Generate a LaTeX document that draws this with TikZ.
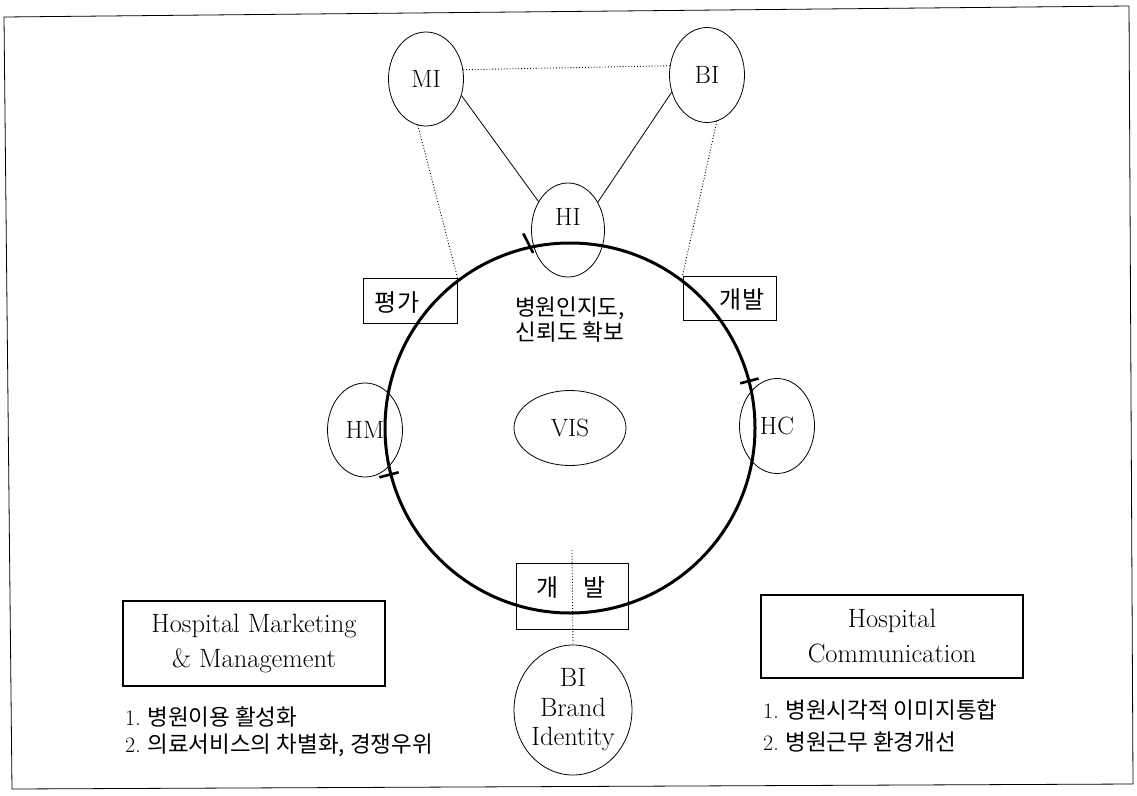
\documentclass[tikz,border=0pt]{standalone}
\usepackage{fontspec}
\newfontfamily\kr{Noto Sans CJK KR}
\usetikzlibrary{shapes.geometric,calc}
\begin{document}
\begin{tikzpicture}[x=1pt,y=-1pt,
  ell/.style={draw,ellipse,inner sep=0pt,line width=0.8pt,font=\fontsize{25}{29}\selectfont,align=center},
  lbox/.style={draw,rectangle,inner sep=0pt,line width=0.9pt},
  hbox/.style={draw,rectangle,inner sep=0pt,line width=2.6pt,align=center,font=\fontsize{26.5}{35}\selectfont},
  thinline/.style={line width=0.8pt},
  dots/.style={line width=0.9pt,dotted},
  ring/.style={line width=3pt},
  tickmark/.style={line width=2.6pt},
  ktext/.style={font=\kr\fontsize{23}{26}\selectfont,align=center,inner sep=0pt},
  listtext/.style={font=\fontsize{22}{26}\selectfont,anchor=west,inner sep=0pt},
  lbl/.style={font=\fontsize{25}{29}\selectfont,inner sep=0pt}
]
\useasboundingbox (0,0) rectangle (1137,795);
% frame
\draw[line width=0.8pt] (4,17) -- (1129,6) -- (1133,784) -- (12,789) -- cycle;

% ellipses
\node[ell,minimum width=75pt,minimum height=94pt] (MI) at (426,79) {MI};
\node[ell,minimum width=75pt,minimum height=95pt] (BI) at (707,75) {BI};
\node[ell,minimum width=73pt,minimum height=94pt] (HI) at (568,230) {};
\node[lbl] (HIt) at (568,217) {HI};
\node[ell,minimum width=75pt,minimum height=94pt] (HM) at (365,430) {HM};
\node[ell,minimum width=75pt,minimum height=95pt] (HC) at (777,426) {HC};
\node[ell,minimum width=112pt,minimum height=75pt] (VIS) at (570,428) {VIS};
\node[ell,minimum width=112pt,minimum height=130pt,font=\fontsize{26.5}{29.5}\selectfont] (BB) at (573,710) {BI\\Brand\\Identity};

% small boxes
\node[lbox,minimum width=94pt,minimum height=45pt] (PG) at (410,300.5) {};
\node[ktext,font=\kr\fontsize{24}{26}\selectfont] (PGt) at (397,302) {평가};
\node[lbox,minimum width=93pt,minimum height=44pt] (GB) at (729.5,298) {};
\node[ktext,font=\kr\fontsize{24}{26}\selectfont] (GBt) at (742,300) {개발};
\node[lbox,minimum width=112pt,minimum height=66pt] (GB2) at (572,596) {};
\node[ktext,font=\kr\fontsize{24}{26}\selectfont] (GB2t) at (571,588) {개\hspace{24pt}발};

% text in the circle
\node[ktext,font=\kr\fontsize{22.5}{25}\selectfont] (T) at (570,320) {병원인지도,\\신뢰도 확보};

% big boxes
\node[hbox,minimum width=262pt,minimum height=85pt] (HMM) at (254,643.5) {Hospital Marketing\\\& Management};
\node[hbox,minimum width=262pt,minimum height=83pt] (HCB) at (892,636.5) {Hospital\\Communication};

% lists
\node[listtext] (L1) at (125,717) {1.\ {\kr\fontsize{22.5}{26}\selectfont 병원이용 활성화}};
\node[listtext] (L2) at (125,745) {2.\ {\kr\fontsize{22.5}{26}\selectfont 의료서비스의 차별화, 경쟁우위}};
\node[listtext] (R1) at (763,710) {1.\ {\kr\fontsize{22.5}{26}\selectfont 병원시각적 이미지통합}};
\node[listtext] (R2) at (763,742) {2.\ {\kr\fontsize{22.5}{26}\selectfont 병원근무 환경개선}};

% connectors
\draw[thinline] (MI.-25) -- (HI.136);
\draw[thinline] (BI.206) -- (HI.43);
\draw[dots] (MI.14) -- (BI.166);
\draw[dots] (MI.260) -- (PG.north east);
\draw[dots] (BI.-78) -- (GB.north west);
\coordinate (D) at (572,550);
\draw[dots] (D) -- (BB.north);

% big circle
\coordinate (O) at (570,428);
\draw[ring] (O) circle[radius=185pt];
\draw[tickmark] ($(O)+(101.9:179pt)$) -- ($(O)+(103.5:200pt)$);
\draw[tickmark] ($(O)+(14.7:176pt)$) -- ($(O)+(14.7:195pt)$);
\draw[tickmark] ($(O)+(194.5:177pt)$) -- ($(O)+(194.5:197pt)$);
\end{tikzpicture}
\end{document}
